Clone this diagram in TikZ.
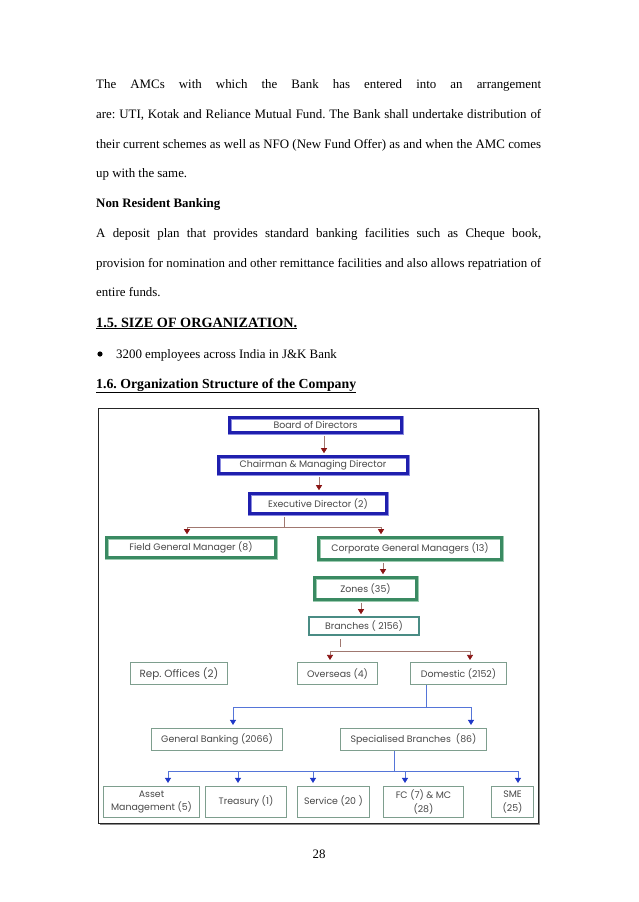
\documentclass[tikz,border=0pt]{standalone}
\usepackage{fontspec}
\setmainfont{Liberation Serif}
\newfontfamily\gothic{Poppins}
\usetikzlibrary{arrows.meta}
\frenchspacing
\definecolor{bluebox}{HTML}{1F1FAE}
\definecolor{bluehalo}{HTML}{8C8CE0}
\definecolor{greenbox}{HTML}{3A8A62}
\definecolor{greenhalo}{HTML}{9CCBB0}
\definecolor{tealbox}{HTML}{4A8C84}
\definecolor{thinbox}{HTML}{7E9E8E}
\definecolor{redtip}{HTML}{8A1414}
\definecolor{redline}{HTML}{A07870}
\definecolor{bluetip}{HTML}{2038C8}
\definecolor{blueline}{HTML}{5575D8}
\definecolor{dtext}{HTML}{484848}
\tikzset{
  box/.style={draw, inner sep=0pt, align=center, text=dtext, font=\gothic\fontsize{9.4}{13.5}\selectfont},
  bluebx/.style={box, draw=bluebox, line width=2.6pt, preaction={draw=bluehalo, line width=4pt}},
  greenbx/.style={box, draw=greenbox, line width=2.6pt, preaction={draw=greenhalo, line width=4pt}},
  tealbx/.style={box, draw=tealbox, line width=1.6pt},
  thinbx/.style={box, draw=thinbox, line width=1.1pt},
  redarr/.style={draw=redline, line width=0.7pt, -{Triangle[width=6pt,length=5pt,color=redtip]}, shorten >=2pt},
  redln/.style={draw=redline, line width=0.7pt},
  bluearr/.style={draw=blueline, line width=0.8pt, -{Triangle[width=6pt,length=5pt,color=bluetip]}, shorten >=3pt},
  blueln/.style={draw=blueline, line width=0.8pt},
  body/.style={anchor=base west, inner sep=0pt, font=\fontsize{12.9}{15}\selectfont},
}
\begin{document}
\begin{tikzpicture}[x=1pt,y=-1pt]
\useasboundingbox[fill=white] (0,0) rectangle (638,902);

% body text
\node[body] (l1) at (96,88) {\makebox[445pt][s]{The AMCs with which the Bank has entered into an arrangement}};
\node[body] (l2) at (96,118) {\makebox[445pt][s]{are: UTI, Kotak and Reliance Mutual Fund. The Bank shall undertake distribution of}};
\node[body] (l3) at (96,148) {\makebox[445pt][s]{their current schemes as well as NFO (New Fund Offer) as and when the AMC comes}};
\node[body] (l4) at (96,177) {up with the same.};
\node[body] (l5) at (96,207) {\textbf{Non Resident Banking}};
\node[body] (l6) at (96,237) {\makebox[445pt][s]{A deposit plan that provides standard banking facilities such as Cheque book,}};
\node[body] (l7) at (96,267) {\makebox[445pt][s]{provision for nomination and other remittance facilities and also allows repatriation of}};
\node[body] (l8) at (96,296) {entire funds.};
\node[body, font=\fontsize{14.2}{16}\selectfont\bfseries] (h1) at (96,327) {\underline{1.5. SIZE OF ORGANIZATION.}};
\fill (100,354) circle (2.6pt);
\node[body] (b1) at (116,358) {3200 employees across India in J\&K Bank};
\node[body, font=\fontsize{13.8}{16}\selectfont\bfseries] (h2) at (96,388) {\underline{1.6. Organization Structure of the Company}};
\node[body, anchor=base] (pg) at (319,858) {28};

% frame
\draw[line width=1pt, draw=black!85] (98,408.5) rectangle (538,823);
\draw[line width=1.2pt, draw=black!45] (539.5,410) -- (539.5,824.5) -- (100,824.5);

% boxes
\node[bluebx, minimum width=172pt, minimum height=15pt] (bod) at (315.5,425) {Board of Directors};
\node[bluebx, minimum width=189pt, minimum height=17pt] (cmd) at (313,465) {Chairman \& Managing Director};
\node[bluebx, minimum width=137pt, minimum height=20pt] (ed) at (318,503.5) {Executive Director (2)};
\node[greenbx, minimum width=169pt, minimum height=20pt] (fgm) at (191,547.5) {Field General Manager (8)};
\node[greenbx, minimum width=183pt, minimum height=22pt] (cgm) at (410,548.5) {Corporate General Managers (13)};
\node[greenbx, minimum width=102pt, minimum height=22pt] (zon) at (365.5,588.5) {Zones (35)};
\node[tealbx, minimum width=110pt, minimum height=18pt] (br) at (364,626) {Branches ( 2156)};
\node[thinbx, minimum width=97pt, minimum height=22pt] (rep) at (179,673.5) {\fontsize{10.4}{12}\selectfont Rep. Offices (2)};
\node[thinbx, minimum width=80pt, minimum height=22pt] (ovs) at (337.5,673.5) {Overseas (4)};
\node[thinbx, minimum width=96pt, minimum height=22pt] (dom) at (458.5,673.5) {Domestic (2152)};
\node[thinbx, minimum width=131pt, minimum height=22pt] (gb) at (217,739.5) {General Banking (2066)};
\node[thinbx, minimum width=146pt, minimum height=22pt] (sb) at (413.5,739.5) {Specialised Branches\ \ (86)};
\node[thinbx, minimum width=96pt, minimum height=31pt] (am) at (151.5,802) {Asset\\Management (5)};
\node[thinbx, minimum width=81pt, minimum height=31pt] (tr) at (246,802) {\raisebox{4pt}{Treasury (1)}};
\node[thinbx, minimum width=72pt, minimum height=31pt] (sv) at (333.5,802) {\raisebox{4pt}{Service (20 )}};
\node[thinbx, minimum width=80pt, minimum height=31pt] (fc) at (423.5,802) {FC (7) \& MC\\(28)};
\node[thinbx, minimum width=42pt, minimum height=31pt] (sme) at (512.5,802) {SME\\(25)};

% junction coordinates
\coordinate (xa) at (324,0);
\coordinate (xb) at (319,0);
\coordinate (ej) at (284,527);
\coordinate (xf) at (187,0);
\coordinate (xc) at (381,0);
\coordinate (xz) at (383,0);
\coordinate (xr) at (361,0);
\coordinate (bs) at (340,639);
\coordinate (bj) at (340,651);
\coordinate (xo) at (330,0);
\coordinate (xd) at (470,0);
\coordinate (dj) at (426,707);
\coordinate (xg) at (233,0);
\coordinate (xs) at (471,0);
\coordinate (sj) at (394,771);
\coordinate (x1) at (168,0);
\coordinate (x2) at (238,0);
\coordinate (x3) at (313,0);
\coordinate (x4) at (405,0);
\coordinate (x5) at (518,0);

% red connectors
\draw[redarr] ([yshift=-2pt]bod.south -| xa) -- (cmd.north -| xa);
\draw[redarr] ([yshift=-2pt]cmd.south -| xb) -- (ed.north -| xb);
\draw[redln] ([yshift=-2pt]ed.south -| ej) -- (ej);
\draw[redarr] (ej) -| (fgm.north -| xf);
\draw[redarr] (ej) -| (cgm.north -| xc);
\draw[redarr] ([yshift=-2pt]cgm.south -| xz) -- (zon.north -| xz);
\draw[redarr] ([yshift=-2pt]zon.south -| xr) -- (br.north -| xr);
\draw[redln] (bs) -- ([yshift=4pt]bj);
\draw[redarr] (bj) -| (ovs.north -| xo);
\draw[redarr] (bj) -| (dom.north -| xd);

% blue connectors
\draw[blueln] (dom.south -| dj) -- (dj);
\draw[bluearr] (dj) -| (gb.north -| xg);
\draw[bluearr] (dj) -| (sb.north -| xs);
\draw[blueln] (sb.south -| sj) -- (sj);
\draw[bluearr] (sj) -| (am.north -| x1);
\draw[bluearr] (sj) -| (tr.north -| x2);
\draw[bluearr] (sj) -| (sv.north -| x3);
\draw[bluearr] (sj) -| (fc.north -| x4);
\draw[bluearr] (sj) -| (sme.north -| x5);
\end{tikzpicture}
\end{document}
